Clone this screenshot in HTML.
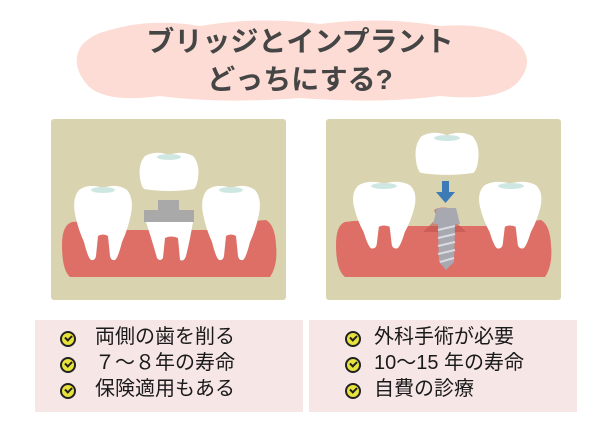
<!DOCTYPE html>
<html><head><meta charset="utf-8"><style>
body{margin:0;width:600px;height:424px;background:#fff;overflow:hidden;position:relative;font-family:"Liberation Sans","Noto Sans CJK JP",sans-serif}
.t{position:absolute;left:0;width:600px;text-align:center;font-weight:bold;color:#454545;font-size:28px;line-height:38px}
.box{position:absolute;top:320px;height:92px;width:268px;background:#f7e6e6}
.it{position:absolute;font-size:20px;color:#1a1a1a;line-height:26px;white-space:nowrap}
.ic{position:absolute;width:12px;height:12px;border-radius:50%;background:#e8e23c;border:2px solid #222}
.ic:after{content:"";position:absolute;left:3px;top:2px;width:5px;height:3px;border-left:2px solid #222;border-bottom:2px solid #222;transform:rotate(-45deg)}
</style></head><body>
<svg width="600" height="424" style="position:absolute;left:0;top:0">
<defs>
<path id="tooth" d="M4 6 Q14 -1 28 4 Q42 -1 52 6 Q59 14 56 30 Q53 45 47 58 Q43 74 40 76 Q36 77 35 72 L33 52 Q28 49 23 52 L21 72 Q20 77 16 76 Q13 74 9 58 Q3 45 0 30 Q-3 14 4 6Z" fill="#fff"/>
<path id="crown" d="M5 4 Q16 -2 29 3 Q42 -2 53 4 Q60 12 58 26 Q57 34 54 37 Q29 41 4 37 Q1 34 0 26 Q-2 12 5 4Z" fill="#fff"/>
</defs>
<path d="M110 30 Q150 18 200 26 Q260 16 320 24 Q380 16 440 26 Q500 22 520 45 Q535 62 518 82 Q500 102 440 96 Q380 104 300 98 Q220 104 160 96 Q100 104 85 82 Q70 62 82 45 Q92 34 110 30Z" fill="#fcdcd4"/>
<rect x="51" y="119" width="235" height="181" rx="3" fill="#d9d3af"/>
<rect x="326" y="119" width="235" height="181" rx="3" fill="#d9d3af"/>
<path d="M72 222 Q62 225 62 245 Q62 270 70 277 L270 277 Q278 265 276 245 Q275 225 266 220 Q240 222 220 230 L120 230 Q95 220 72 222Z" fill="#dd6f66"/>
<path d="M345 222 Q336 225 336 245 Q336 270 345 277 L545 277 Q553 265 551 245 Q550 225 541 220 Q520 222 500 226 L400 226 Q370 218 345 222Z" fill="#dd6f66"/>
<use href="#tooth" transform="translate(75,184)"/>
<use href="#tooth" transform="translate(203,184)"/>
<use href="#tooth" transform="translate(354,180) scale(1.08,0.9)"/>
<use href="#tooth" transform="translate(480,180) scale(1.08,0.9)"/>
<use href="#crown" transform="translate(140,152)"/>
<use href="#crown" transform="translate(416,132) scale(1.07,1.1)"/>
<path d="M146 222 L193 222 Q190 240 186 256 Q184 262 180 260 L178 238 Q171 235 165 238 L163 258 Q160 262 157 258 Q152 240 146 222Z" fill="#fff"/>
<g fill="#cfe7e2">
<ellipse cx="103" cy="190" rx="12" ry="3"/><ellipse cx="231" cy="190" rx="12" ry="3"/><ellipse cx="169" cy="157" rx="12" ry="3"/>
<ellipse cx="384" cy="186" rx="13" ry="3"/><ellipse cx="511" cy="186" rx="13" ry="3"/><ellipse cx="447" cy="138" rx="13" ry="3"/>
</g>
<path d="M158 200 L179 200 L179 210 L194 210 L194 222 L144 222 L144 210 L158 210Z" fill="#a9a9a9"/>
<path d="M434 210 Q442 205 455 210 L452 218 L466 232 L423 232 L437 218Z" fill="#c3524d" opacity=".6"/>
<path d="M437 208 L456 208 L460 224 L433 224Z" fill="#a7a8b0"/>
<path d="M438 224 L455 224 L454 262 L446 270 L439 262Z" fill="#a7a8b0"/>
<g stroke="#dadbe0" stroke-width="2"><line x1="438" y1="230" x2="455" y2="226"/><line x1="438" y1="238" x2="455" y2="234"/><line x1="438" y1="246" x2="455" y2="242"/><line x1="438" y1="254" x2="455" y2="250"/><line x1="440" y1="262" x2="454" y2="258"/></g>
<path d="M442 181 L449 181 L449 192 L455 192 L445.5 203 L436 192 L442 192Z" fill="#3c7bb5"/>
</svg>
<div class="t" style="top:23px">ブリッジとインプラント</div>
<div class="t" style="top:61px">どっちにする?</div>
<div class="box" style="left:35px"></div>
<div class="box" style="left:309px"></div>
<div class="ic" style="left:60px;top:331px"></div><div class="it" style="left:95px;top:324px">両側の歯を削る</div>
<div class="ic" style="left:60px;top:357px"></div><div class="it" style="left:95px;top:350px">７～８年の寿命</div>
<div class="ic" style="left:60px;top:383px"></div><div class="it" style="left:95px;top:376px">保険適用もある</div>
<div class="ic" style="left:345px;top:331px"></div><div class="it" style="left:374px;top:324px">外科手術が必要</div>
<div class="ic" style="left:345px;top:357px"></div><div class="it" style="left:374px;top:350px">10～15 年の寿命</div>
<div class="ic" style="left:345px;top:383px"></div><div class="it" style="left:374px;top:376px">自費の診療</div>
</body></html>
